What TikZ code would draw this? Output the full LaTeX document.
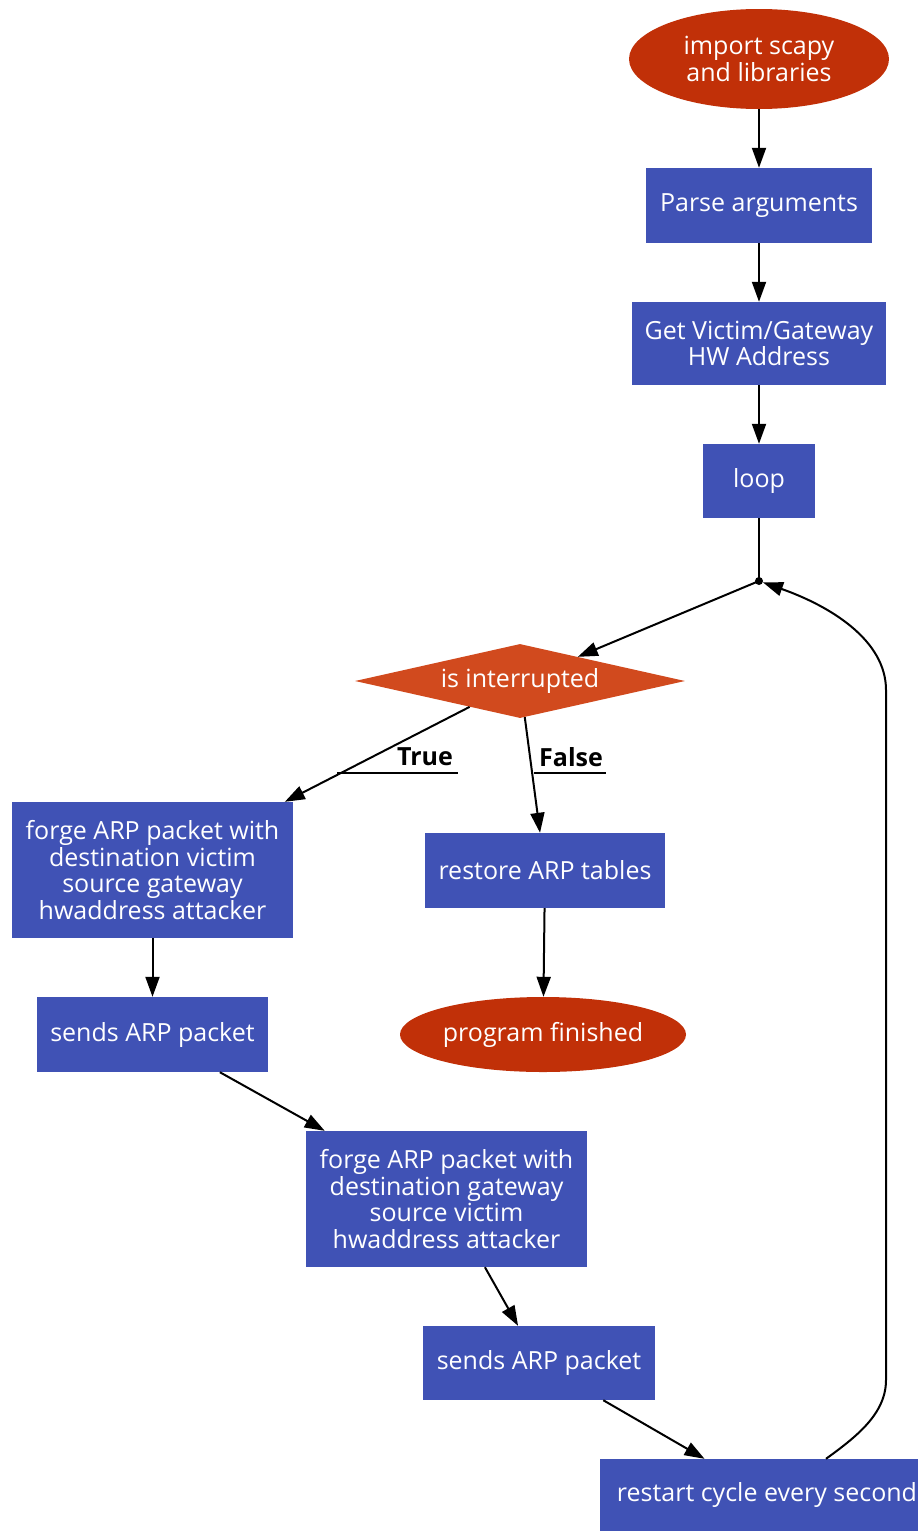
\documentclass[tikz,border=0pt]{standalone}
\usepackage{fontspec}
\setmainfont{Open Sans}
\usetikzlibrary{shapes.geometric,arrows.meta}
\definecolor{startred}{RGB}{193,48,8}
\definecolor{decide}{RGB}{209,74,30}
\definecolor{stepblue}{RGB}{64,82,181}
\tikzset{
  txt/.style={font=\fontsize{25}{26.7}\selectfont, text=white, align=center, inner sep=0pt},
  stepbox/.style={txt, rectangle, fill=stepblue},
  terminal/.style={txt, ellipse, fill=startred},
  flow/.style={line width=2pt, -{Triangle[length=20pt,width=14pt]}},
  plainline/.style={line width=2pt},
  edgelabel/.style={font=\fontsize{25}{26}\selectfont\bfseries, inner sep=0pt},
}
\begin{document}
\begin{tikzpicture}[x=1pt,y=-1pt]
\useasboundingbox (0,0) rectangle (918,1531);
% nodes
\node[terminal, minimum width=260pt, minimum height=100pt] (imp) at (759,59) {import scapy\\and libraries};
\node[stepbox, minimum width=226pt, minimum height=75pt] (parse) at (759,205.5) {Parse arguments};
\node[stepbox, minimum width=254pt, minimum height=83pt] (hw) at (759,343.5) {Get Victim/Gateway\\HW Address};
\node[stepbox, minimum width=112pt, minimum height=74pt] (lp) at (759,481) {loop};
\node[circle, fill=black, inner sep=0pt, minimum size=8pt] (pt) at (759,581) {};
\node[diamond, fill=decide, minimum width=330pt, minimum height=74pt, inner sep=0pt] (dec) at (520,681) {};
\node[txt] at (dec) {is interrupted};
\node[stepbox, minimum width=281pt, minimum height=136pt] (f1) at (152.5,870) {forge ARP packet with\\destination victim\\source gateway\\hwaddress attacker};
\node[stepbox, minimum width=240pt, minimum height=75pt] (rest) at (545,870.5) {restore ARP tables};
\node[stepbox, minimum width=231pt, minimum height=75pt] (s1) at (152.5,1034.5) {sends ARP packet};
\node[terminal, minimum width=286pt, minimum height=75pt] (fin) at (543,1034.5) {program finished};
\node[stepbox, minimum width=281pt, minimum height=136pt] (f2) at (446.5,1199) {forge ARP packet with\\destination gateway\\source victim\\hwaddress attacker};
\node[stepbox, minimum width=232pt, minimum height=74pt] (s2) at (539,1363) {sends ARP packet};
\node[stepbox, minimum width=334pt, minimum height=72pt] (rs) at (767,1495) {restart cycle every second};
% edge labels
\node[edgelabel] (lt) at (425,757) {True};
\node[edgelabel] (lf) at (571,757) {False};
% connectors
\draw[flow] (imp) -- (parse);
\draw[flow] (parse) -- (hw);
\draw[flow] (hw) -- (lp);
\draw[plainline] (lp) -- (pt.center);
\draw[flow] (pt.center) -- (dec);
\draw[flow] (dec) -- (f1);
\draw[flow] (dec) -- (rest);
\draw[plainline] (337,773) -- (458,773);
\draw[plainline] (534,773) -- (606,773);
\draw[flow] (f1) -- (s1);
\draw[flow] (rest) -- (fin);
\draw[flow] (s1) -- (f2);
\draw[flow] (f2) -- (s2);
\draw[flow] (s2) -- (rs);
\draw[flow] ([xshift=59pt]rs.north) .. controls (856,1437) and (886,1414) .. (886,1380)
  -- (886,690) .. controls (886,640) and (830,606) .. (pt);
\end{tikzpicture}
\end{document}
